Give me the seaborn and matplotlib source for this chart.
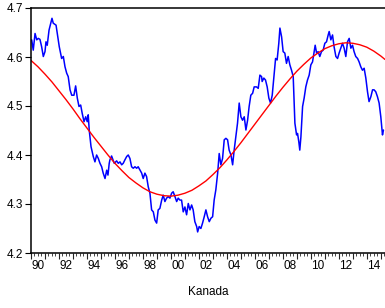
import matplotlib
matplotlib.use("Agg")
import matplotlib.pyplot as plt
import pandas as pd
import seaborn as sns
from matplotlib.ticker import MultipleLocator, FixedLocator

# blue series: observed values (decimal year, level)
obs_t = [
    1990.05, 1990.16, 1990.29, 1990.41, 1990.52, 1990.64, 1990.76, 1990.88, 1991.00, 1991.07,
    1991.16, 1991.29, 1991.41, 1991.50, 1991.59, 1991.79, 1991.88, 1992.02, 1992.19, 1992.31,
    1992.43, 1992.55, 1992.66, 1992.79, 1992.91, 1993.07, 1993.19, 1993.31, 1993.43, 1993.55,
    1993.66, 1993.79, 1993.91, 1994.02, 1994.09, 1994.16, 1994.29, 1994.45, 1994.57, 1994.69,
    1994.81, 1994.93, 1995.05, 1995.16, 1995.29, 1995.41, 1995.50, 1995.59, 1995.64, 1995.76,
    1995.95, 1996.12, 1996.24, 1996.36, 1996.48, 1996.59, 1996.71, 1996.84, 1996.95, 1997.07,
    1997.19, 1997.31, 1997.43, 1997.55, 1997.66, 1997.91, 1998.02, 1998.14, 1998.26, 1998.38,
    1998.50, 1998.62, 1998.74, 1998.86, 1998.98, 1999.09, 1999.21, 1999.34, 1999.45, 1999.57,
    1999.69, 1999.81, 1999.93, 2000.05, 2000.16, 2000.29, 2000.41, 2000.52, 2000.64, 2000.76,
    2000.88, 2001.00, 2001.12, 2001.24, 2001.36, 2001.48, 2001.59, 2001.71, 2001.84, 2001.91,
    2002.02, 2002.14, 2002.26, 2002.38, 2002.50, 2002.62, 2002.74, 2002.86, 2002.98, 2003.09,
    2003.21, 2003.34, 2003.45, 2003.57, 2003.69, 2003.81, 2003.93, 2004.05, 2004.16, 2004.29,
    2004.41, 2004.52, 2004.64, 2004.76, 2004.88, 2005.00, 2005.12, 2005.24, 2005.36, 2005.48,
    2005.59, 2005.71, 2005.84, 2005.95, 2006.12, 2006.24, 2006.36, 2006.48, 2006.52, 2006.64,
    2006.76, 2006.88, 2007.00, 2007.12, 2007.24, 2007.36, 2007.48, 2007.59, 2007.71, 2007.79,
    2007.91, 2008.02, 2008.14, 2008.26, 2008.38, 2008.50, 2008.62, 2008.74, 2008.86, 2008.98,
    2009.05, 2009.14, 2009.21, 2009.29, 2009.41, 2009.52, 2009.64, 2009.76, 2009.88, 2010.00,
    2010.12, 2010.24, 2010.31, 2010.41, 2010.52, 2010.64, 2010.76, 2010.88, 2011.00, 2011.12,
    2011.24, 2011.31, 2011.43, 2011.55, 2011.66, 2011.79, 2011.91, 2012.02, 2012.14, 2012.26,
    2012.38, 2012.50, 2012.62, 2012.74, 2012.86, 2012.98, 2013.09, 2013.21, 2013.34, 2013.45,
    2013.57, 2013.69, 2013.81, 2013.93, 2014.05, 2014.16, 2014.29, 2014.41, 2014.52, 2014.64,
    2014.76, 2014.88, 2015.00, 2015.12, 2015.19,
]
obs_v = [
    4.635, 4.614, 4.648, 4.635, 4.638, 4.636, 4.621, 4.601, 4.611, 4.631,
    4.624, 4.655, 4.669, 4.679, 4.669, 4.665, 4.648, 4.621, 4.597, 4.601,
    4.580, 4.567, 4.560, 4.533, 4.522, 4.522, 4.541, 4.516, 4.499, 4.502,
    4.485, 4.468, 4.478, 4.468, 4.482, 4.451, 4.417, 4.397, 4.386, 4.400,
    4.393, 4.383, 4.376, 4.363, 4.352, 4.369, 4.359, 4.383, 4.390, 4.398,
    4.383, 4.388, 4.383, 4.386, 4.380, 4.383, 4.390, 4.397, 4.400, 4.393,
    4.376, 4.373, 4.376, 4.373, 4.376, 4.363, 4.352, 4.363, 4.356, 4.335,
    4.322, 4.288, 4.284, 4.267, 4.261, 4.288, 4.291, 4.308, 4.318, 4.305,
    4.312, 4.315, 4.312, 4.322, 4.325, 4.315, 4.305, 4.312, 4.308, 4.308,
    4.284, 4.294, 4.278, 4.301, 4.288, 4.298, 4.288, 4.264, 4.254, 4.243,
    4.254, 4.250, 4.261, 4.274, 4.288, 4.274, 4.264, 4.271, 4.274, 4.308,
    4.329, 4.363, 4.403, 4.380, 4.393, 4.431, 4.434, 4.431, 4.410, 4.400,
    4.380, 4.410, 4.437, 4.465, 4.506, 4.478, 4.471, 4.478, 4.451, 4.471,
    4.499, 4.522, 4.526, 4.539, 4.539, 4.536, 4.563, 4.560, 4.550, 4.557,
    4.553, 4.539, 4.516, 4.506, 4.522, 4.560, 4.597, 4.594, 4.628, 4.659,
    4.641, 4.611, 4.608, 4.587, 4.601, 4.584, 4.573, 4.560, 4.465, 4.441,
    4.444, 4.427, 4.410, 4.437, 4.499, 4.516, 4.539, 4.553, 4.563, 4.584,
    4.590, 4.611, 4.624, 4.608, 4.611, 4.601, 4.611, 4.614, 4.628, 4.631,
    4.645, 4.652, 4.635, 4.645, 4.621, 4.601, 4.597, 4.608, 4.618, 4.628,
    4.618, 4.601, 4.631, 4.638, 4.618, 4.624, 4.611, 4.601, 4.597, 4.590,
    4.580, 4.573, 4.577, 4.557, 4.529, 4.509, 4.519, 4.533, 4.533, 4.529,
    4.519, 4.506, 4.478, 4.441, 4.451,
]

# red series: smooth cycle, every half year
fit_t = [
    1990.0, 1990.5, 1991.0, 1991.5, 1992.0, 1992.5, 1993.0, 1993.5, 1994.0, 1994.5,
    1995.0, 1995.5, 1996.0, 1996.5, 1997.0, 1997.5, 1998.0, 1998.5, 1999.0, 1999.5,
    2000.0, 2000.5, 2001.0, 2001.5, 2002.0, 2002.5, 2003.0, 2003.5, 2004.0, 2004.5,
    2005.0, 2005.5, 2006.0, 2006.5, 2007.0, 2007.5, 2008.0, 2008.5, 2009.0, 2009.5,
    2010.0, 2010.5, 2011.0, 2011.5, 2012.0, 2012.5, 2013.0, 2013.5, 2014.0, 2014.5,
    2015.0, 2015.3,
]
fit_v = [
    4.593, 4.580, 4.565, 4.549, 4.531, 4.513, 4.494, 4.474, 4.455, 4.436,
    4.418, 4.400, 4.383, 4.368, 4.354, 4.343, 4.333, 4.325, 4.320, 4.317,
    4.316, 4.318, 4.322, 4.328, 4.337, 4.347, 4.360, 4.374, 4.390, 4.407,
    4.425, 4.444, 4.463, 4.482, 4.501, 4.520, 4.538, 4.555, 4.571, 4.585,
    4.598, 4.608, 4.617, 4.623, 4.627, 4.629, 4.628, 4.625, 4.620, 4.612,
    4.602, 4.595,
]

label_years = list(range(1990, 2015, 2))
tick_labels = [f"{y % 100:02d}" for y in label_years]
y_ticks = [4.2, 4.3, 4.4, 4.5, 4.6, 4.7]

sns.set_theme(style="ticks")
plt.rcParams["font.family"] = ["Liberation Sans", "DejaVu Sans"]

fig = plt.figure(figsize=(3.85, 3.08), dpi=100)
ax = fig.add_axes([31 / 385, 55 / 308, 1 - 31 / 385, 245 / 308])

obs = pd.DataFrame({"t": obs_t, "v": obs_v})
fit = pd.DataFrame({"t": fit_t, "v": fit_v})
sns.lineplot(data=obs, x="t", y="v", ax=ax, color="#0000ff", linewidth=1.1, sort=False)
sns.lineplot(data=fit, x="t", y="v", ax=ax, color="#ff0000", linewidth=1.0, sort=False)

ax.set_xlim(1990, 2015.3)
ax.set_ylim(4.2, 4.7)
ax.set_yticks(y_ticks)
ax.set_yticklabels([f"{v:.1f}" for v in y_ticks])
ax.xaxis.set_major_locator(MultipleLocator(1))
ax.xaxis.set_minor_locator(MultipleLocator(0.25))
ax.tick_params(axis="x", which="major", length=4, width=0.8, labelbottom=False, direction="out")
ax.tick_params(axis="x", which="minor", length=2, width=0.6, direction="out")
ax.tick_params(axis="y", which="major", length=4, width=0.8, pad=1.5, labelsize=8.5, colors="black")
for s in ["left", "top", "bottom"]:
    ax.spines[s].set_linewidth(1.1)
    ax.spines[s].set_color("black")
ax.spines["right"].set_visible(False)
ax.set_ylabel("")
ax.set_xlabel("")

sec = ax.secondary_xaxis("bottom")
sec.xaxis.set_major_locator(FixedLocator([y + 0.5 for y in label_years]))
sec.set_xticklabels(tick_labels)
sec.tick_params(length=0, pad=5, labelsize=8.5, colors="black")
sec.spines["bottom"].set_visible(False)
sec.set_xlabel("Kanada", fontsize=8.5, labelpad=10, color="black")

fig.savefig("out.png", dpi=100)
